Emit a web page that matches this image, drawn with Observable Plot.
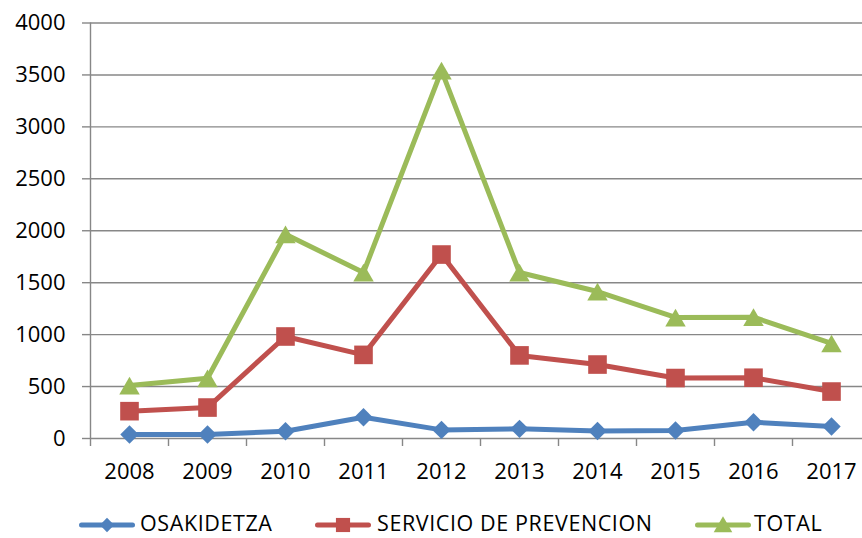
<!DOCTYPE html>
<html>
<head>
<meta charset="utf-8">
<script src="https://cdn.jsdelivr.net/npm/d3@7"></script>
<script src="https://cdn.jsdelivr.net/npm/@observablehq/plot@0.6"></script>
<style>
  html, body { margin: 0; padding: 0; background: #fff; }
  #wrap { position: relative; width: 862px; height: 538px; font-family: "Open Sans", sans-serif; }
  #chart { position: absolute; left: 0; top: 0; }
  .legsw { position: absolute; top: 515px; }
  .legtx { position: absolute; top: 513px; height: 20px; line-height: 20px; font-size: 21.5px; letter-spacing: 0.6px; color: #000; white-space: nowrap; }
</style>
</head>
<body>
<div id="wrap">
  <div id="chart"></div>
</div>
<script>
const years = [2008, 2009, 2010, 2011, 2012, 2013, 2014, 2015, 2016, 2017];
const osakidetza = [38, 38, 70, 205, 83, 93, 72, 77, 157, 115];
const servicio = [263, 298, 982, 805, 1771, 800, 712, 582, 585, 452];
const total = [510, 580, 1966, 1598, 3542, 1598, 1415, 1165, 1168, 915];
const seriesNames = ["OSAKIDETZA", "SERVICIO DE PREVENCION", "TOTAL"];
const yTicks = [0, 500, 1000, 1500, 2000, 2500, 3000, 3500, 4000];

const colors = ["#4F81BD", "#C0504D", "#9BBB59"];
const symbols = ["diamond2", "square", "triangle"];
const radii = [8.3, 10.5, 7.6];
const dys = [0, 0, 3];

const seriesValues = [osakidetza, servicio, total];
const tables = seriesValues.map((vals, i) => years.map((y, j) => ({year: y, value: vals[j], series: seriesNames[i]})));
const boundaries = years.map(y => y - 0.5).concat([years[years.length - 1] + 0.5]);

const grid = "#878787";
const marks = [
  Plot.ruleY(yTicks, {stroke: grid, strokeWidth: 1.4}),
  Plot.ruleX([boundaries[0]], {y1: 0, y2: 4000, stroke: grid, strokeWidth: 1.4}),
  Plot.axisY({ticks: yTicks, tickSize: 8, tickPadding: 17, stroke: grid, strokeWidth: 1.4, fill: "#000", tickFormat: d => String(d), label: null}),
  Plot.axisX({ticks: boundaries, tickSize: 8, tickFormat: () => "", stroke: grid, strokeWidth: 1.4, label: null}),
  Plot.axisX({ticks: years, tickSize: 0, tickPadding: 25, fill: "#000", tickFormat: d => String(d), label: null})
];
tables.forEach((t, i) => {
  marks.push(Plot.line(t, {x: "year", y: "value", stroke: colors[i], strokeWidth: 5, strokeLinejoin: "round", strokeLinecap: "round"}));
});
tables.forEach((t, i) => {
  marks.push(Plot.dot(t, {x: "year", y: "value", symbol: symbols[i], r: radii[i], fill: colors[i], stroke: "none", dy: dys[i]}));
});

const chart = Plot.plot({
  width: 862,
  height: 500,
  marginLeft: 90,
  marginRight: 0,
  marginTop: 22,
  marginBottom: 62,
  style: {fontFamily: "Open Sans, sans-serif", fontSize: "22px", color: "#000", background: "#fff", overflow: "visible"},
  x: {type: "linear", domain: [boundaries[0], boundaries[boundaries.length - 1]], range: [90, 870]},
  y: {domain: [0, 4000], range: [438, 22.5]},
  marks
});
document.getElementById("chart").appendChild(chart);

// Legend (HTML below the SVG)
const swatchLeft = [77, 313, 693];
const textLeft = [140, 377, 754];
const wrap = document.getElementById("wrap");
const symGen = [d3.symbolDiamond2, d3.symbolSquare, d3.symbolTriangle];
const legSizes = [130, 200, 150];
seriesNames.forEach((name, i) => {
  const sw = document.createElement("div");
  sw.className = "legsw";
  sw.style.left = swatchLeft[i] + "px";
  const path = d3.symbol(symGen[i], legSizes[i])();
  sw.innerHTML = `<svg width="60" height="20" viewBox="0 0 60 20" style="display:block"><line x1="4.5" x2="55.5" y1="10" y2="10" stroke="${colors[i]}" stroke-width="5" stroke-linecap="round"/><path transform="translate(30,${i === 2 ? 12 : 10})" d="${path}" fill="${colors[i]}"/></svg>`;
  wrap.appendChild(sw);
  const tx = document.createElement("div");
  tx.className = "legtx";
  tx.style.left = textLeft[i] + "px";
  tx.textContent = name;
  wrap.appendChild(tx);
});
</script>
</body>
</html>
